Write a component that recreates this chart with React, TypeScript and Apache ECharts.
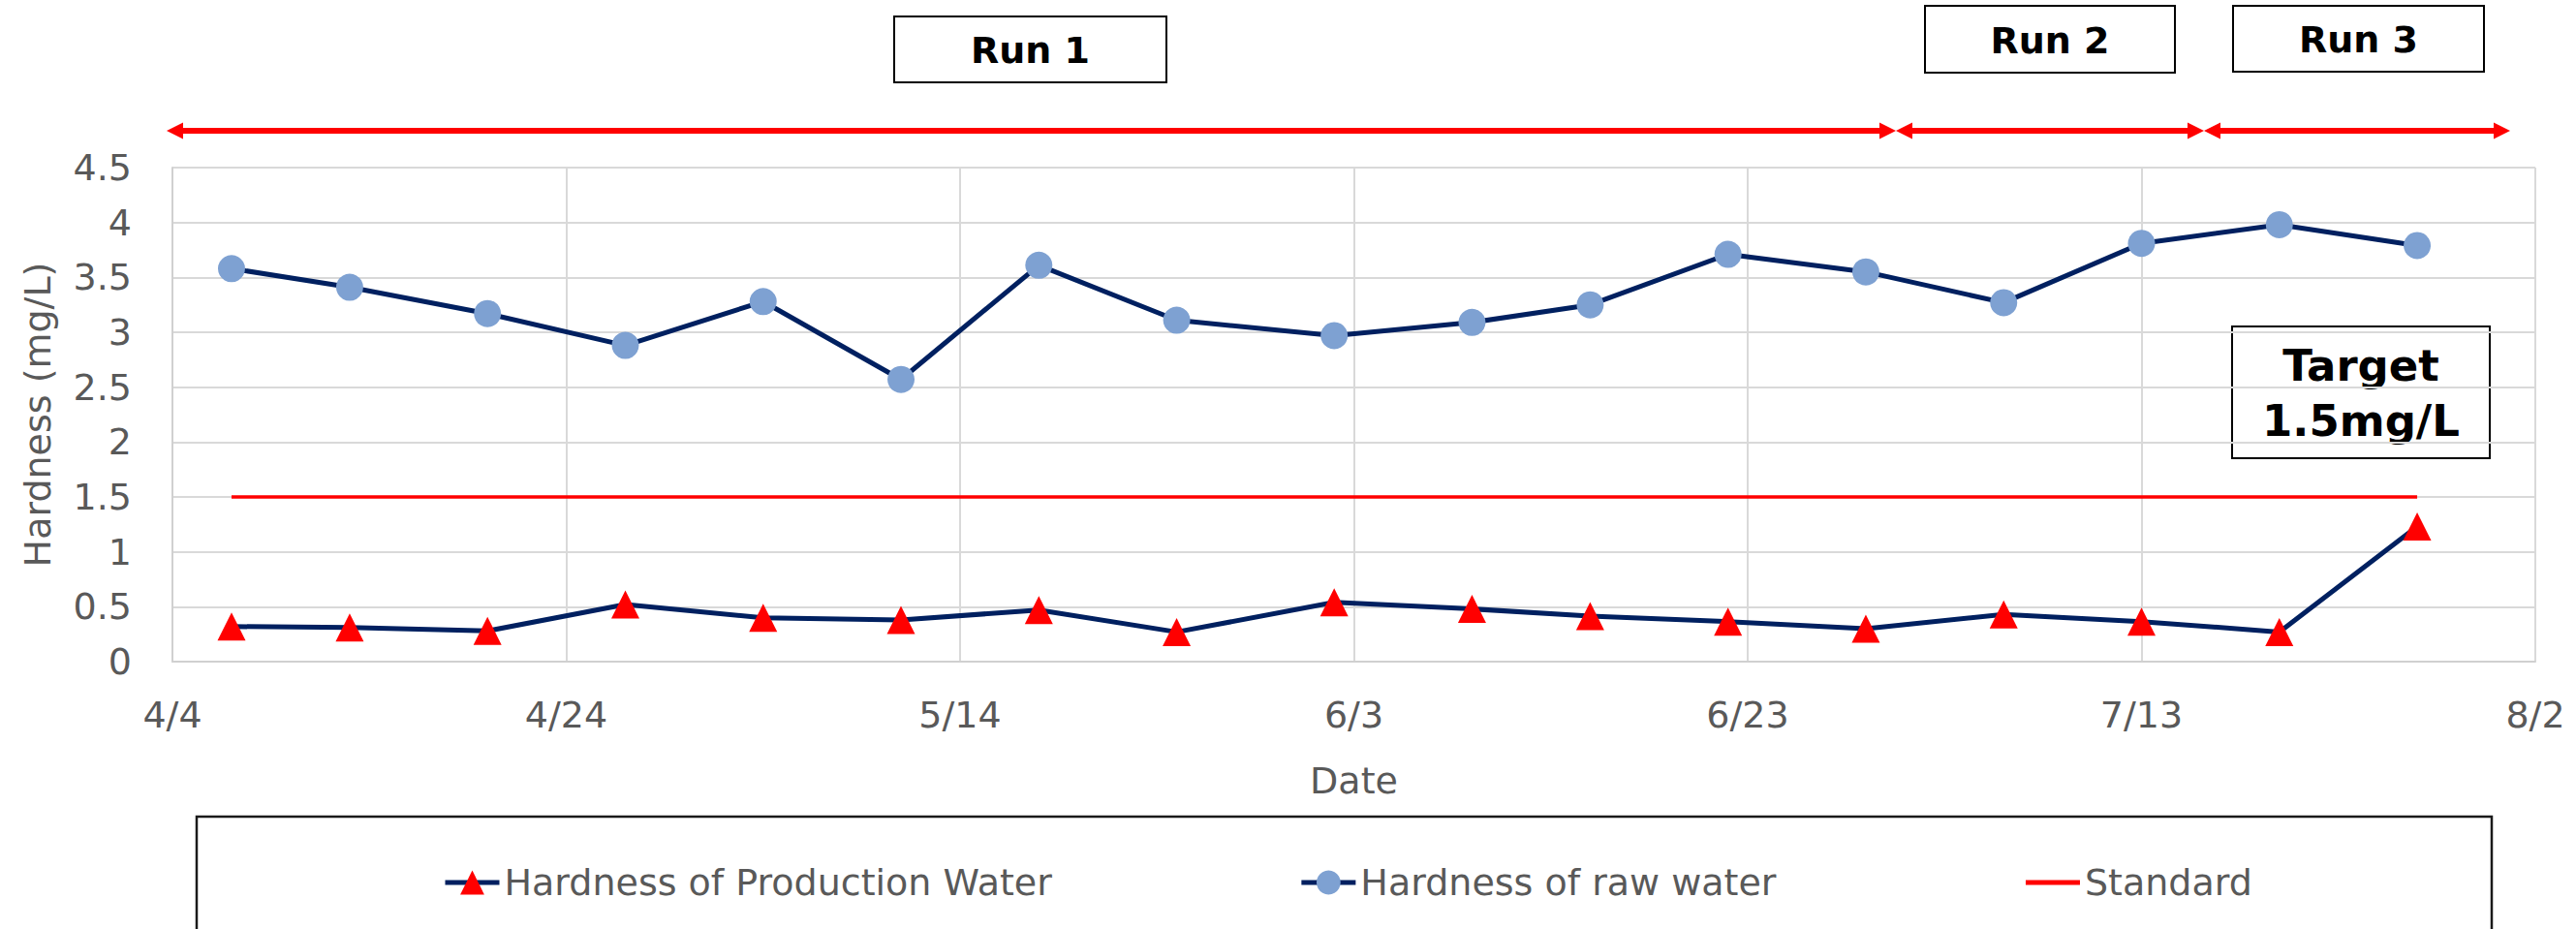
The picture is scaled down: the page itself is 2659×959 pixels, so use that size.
import React, { useEffect, useRef } from "react";
import * as echarts from "echarts";

// ---- data ----
const dates = [
  "4/7", "4/13", "4/20", "4/27", "5/4", "5/11", "5/18", "5/25", "6/2",
  "6/9", "6/15", "6/22", "6/29", "7/6", "7/13", "7/20", "7/27",
];
const productionWater = [
  0.32, 0.31, 0.28, 0.52, 0.4, 0.38, 0.47, 0.27, 0.54,
  0.48, 0.415, 0.365, 0.3, 0.43, 0.365, 0.27, 1.23,
];
const rawWater = [
  3.58, 3.41, 3.17, 2.88, 3.28, 2.57, 3.61, 3.11, 2.97,
  3.09, 3.25, 3.71, 3.55, 3.27, 3.81, 3.98, 3.79,
];
const standard = [
  1.5, 1.5, 1.5, 1.5, 1.5, 1.5, 1.5, 1.5, 1.5,
  1.5, 1.5, 1.5, 1.5, 1.5, 1.5, 1.5, 1.5,
];
const seriesNames = ["Hardness of Production Water", "Hardness of raw water", "Standard"];
const axisStart = "4/4";
const axisEnd = "8/2";
const tickDays = 20;
const runLabels = ["Run 1", "Run 2", "Run 3"];
const targetLines = ["Target", "1.5mg/L"];

const BASE = Date.UTC(2000, 3, 4);
const DAY = 86400000;
function dayOffset(md: string) {
  const [m, d] = md.split("/").map(Number);
  return (Date.UTC(2000, m - 1, d) - BASE) / DAY;
}
function fmtDay(v: number) {
  const dt = new Date(BASE + v * DAY);
  return `${dt.getUTCMonth() + 1}/${dt.getUTCDate()}`;
}

const FONT = '"DejaVu Sans", Verdana, sans-serif';
const GRAY = "#595959";
const NAVY = "#002060";
const RED = "#FF0000";
const LIGHTBLUE = "#7EA1D2";

function arrowHead(tipX: number, y: number, dir: number) {
  const len = 17;
  const half = 8.5;
  return {
    type: "polygon",
    shape: {
      points: [
        [tipX, y],
        [tipX - dir * len, y - half],
        [tipX - dir * len, y + half],
      ],
    },
    style: { fill: RED },
  };
}

function boxText(x: number, y: number, text: string, size: number) {
  return {
    type: "text",
    style: {
      text,
      x,
      y,
      fill: "#000",
      fontSize: size,
      fontWeight: "bold",
      fontFamily: FONT,
      align: "center",
      verticalAlign: "middle",
      textAlign: "center",
      textVerticalAlign: "middle",
    },
  };
}

function boxRect(x: number, y: number, w: number, h: number) {
  return {
    type: "rect",
    shape: { x, y, width: w, height: h },
    style: { fill: "#fff", stroke: "#000", lineWidth: 2 },
  };
}

export default function App() {
  const ref = useRef<HTMLDivElement>(null);
  useEffect(() => {
    if (!ref.current) return;
    const chart = echarts.init(ref.current, null, { renderer: "svg" });
    const xs = dates.map(dayOffset);
    const ay = 135;
    const segs = [
      [172, 1957],
      [1957, 2275],
      [2275, 2591],
    ];
    const graphics: any[] = [];
    // legend frame
    graphics.push({
      type: "rect",
      shape: { x: 203, y: 843, width: 2369, height: 200 },
      style: { fill: "none", stroke: "#1a1a1a", lineWidth: 2.5 },
      z: 0,
    });
    segs.forEach(([a, b]) => {
      graphics.push({
        type: "line",
        shape: { x1: a + 14, y1: ay, x2: b - 14, y2: ay },
        style: { stroke: RED, lineWidth: 6 },
      });
      graphics.push(arrowHead(a, ay, -1));
      graphics.push(arrowHead(b, ay, 1));
    });
    // run boxes
    const runBoxes = [
      [923, 17, 281, 68],
      [1987, 6, 258, 69],
      [2305, 6, 259, 68],
    ];
    runBoxes.forEach(([x, y, w, h], i) => {
      graphics.push(boxRect(x, y, w, h));
      graphics.push(boxText(x + w / 2, y + h / 2 + 1, runLabels[i], 38));
    });
    // target box
    graphics.push(boxRect(2304, 337, 266, 136));
    graphics.push(boxText(2437, 377, targetLines[0], 45));
    graphics.push(boxText(2437, 434, targetLines[1], 45));

    chart.setOption({
      animation: false,
      backgroundColor: "#fff",
      textStyle: { fontFamily: FONT },
      grid: { left: 178, right: 42, top: 173, bottom: 276, containLabel: false },
      xAxis: {
        type: "value",
        min: dayOffset(axisStart),
        max: dayOffset(axisEnd),
        interval: tickDays,
        name: "Date",
        nameLocation: "middle",
        nameGap: 104,
        nameTextStyle: { fontSize: 38, color: GRAY, fontFamily: FONT },
        axisLine: { show: true, lineStyle: { color: "#D0D0D0", width: 2 } },
        axisTick: { show: false },
        splitLine: { show: true, lineStyle: { color: "#D9D9D9", width: 2 } },
        axisLabel: {
          fontSize: 38,
          color: GRAY,
          fontFamily: FONT,
          margin: 36,
          formatter: (v: number) => fmtDay(v),
        },
      },
      yAxis: {
        type: "value",
        min: 0,
        max: 4.5,
        interval: 0.5,
        name: "Hardness (mg/L)",
        nameLocation: "middle",
        nameGap: 120,
        nameTextStyle: { fontSize: 38, color: GRAY, fontFamily: FONT },
        axisLine: { show: true, lineStyle: { color: "#D0D0D0", width: 2 } },
        axisTick: { show: false },
        splitLine: { show: true, lineStyle: { color: "#D9D9D9", width: 2 } },
        axisLabel: { fontSize: 38, color: GRAY, fontFamily: FONT, margin: 42 },
      },
      legend: {
        left: 452,
        top: 887,
        itemWidth: 56,
        itemHeight: 31,
        itemGap: 255,
        lineStyle: { width: 5 },
        textStyle: { fontSize: 38, color: GRAY, fontFamily: FONT, padding: [0, 0, 0, 0] },
        data: [
          { name: seriesNames[0] },
          { name: seriesNames[1] },
          { name: seriesNames[2], itemStyle: { opacity: 0 } },
        ],
      },
      series: [
        {
          name: seriesNames[0],
          type: "line",
          data: xs.map((x, i) => [x, productionWater[i]]),
          symbol: "triangle",
          symbolSize: 29,
          lineStyle: { color: NAVY, width: 5 },
          itemStyle: { color: RED, borderWidth: 0 },
          z: 4,
        },
        {
          name: seriesNames[1],
          type: "line",
          data: xs.map((x, i) => [x, rawWater[i]]),
          symbol: "circle",
          symbolSize: 28,
          lineStyle: { color: NAVY, width: 5 },
          itemStyle: { color: LIGHTBLUE, borderWidth: 0 },
          z: 4,
        },
        {
          name: seriesNames[2],
          type: "line",
          data: xs.map((x, i) => [x, standard[i]]),
          symbol: "none",
          lineStyle: { color: RED, width: 3.5 },
          itemStyle: { color: RED },
          z: 3,
        },
      ],
      graphic: graphics,
    });
    return () => chart.dispose();
  }, []);
  return (
    <div
      ref={ref}
      style={{ position: "absolute", left: 0, top: 0, width: 2659, height: 959 }}
    />
  );
}
